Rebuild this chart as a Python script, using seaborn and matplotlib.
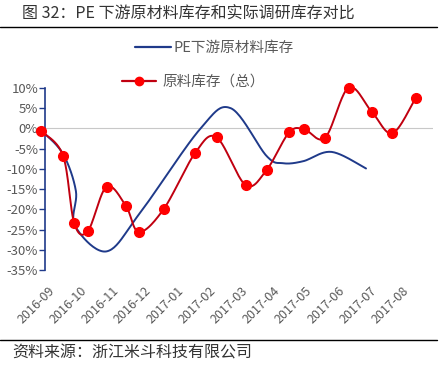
import numpy as np
import pandas as pd
import seaborn as sns
import matplotlib.pyplot as plt
from matplotlib.lines import Line2D

# --- données (x = index de mois, 0 = 2016-09) ---
mois = ['2016-09', '2016-10', '2016-11', '2016-12', '2017-01', '2017-02',
        '2017-03', '2017-04', '2017-05', '2017-06', '2017-07', '2017-08']

# PE下游原材料库存 (courbe lissée, points relevés)
pe_x = [-0.20, 0.47, 0.87, 0.84, 1.82, 2.86, 4.72, 5.68, 6.79, 7.30, 7.93, 8.81, 9.88]
pe_y = [-0.5, -6.3, -15.5, -24.0, -30.4, -20.9, -0.2, 5.0, -6.8, -8.6, -8.1, -5.8, -9.9]

# 原料库存（总）
tot_x = [-0.20, 0.47, 0.82, 1.24, 1.82, 2.42, 2.83, 3.60, 4.57, 5.24,
         6.14, 6.79, 7.49, 7.96, 8.61, 9.34, 10.06, 10.70, 11.42]
tot_y = [-0.7, -6.7, -23.5, -25.4, -14.4, -19.1, -25.6, -19.9, -6.1, -2.2,
         -14.0, -10.3, -1.0, -0.2, -2.3, 10.1, 4.1, -1.2, 7.5]

y_ticks = [10, 5, 0, -5, -10, -15, -20, -25, -30, -35]


def lissage(xs, ys, n=24):
    # spline de Catmull-Rom, comme la "ligne lissée" d'Excel
    p = np.column_stack([xs, ys]).astype(float)
    p = np.vstack([p[0], p, p[-1]])
    out = []
    for i in range(1, len(p) - 2):
        p0, p1, p2, p3 = p[i - 1], p[i], p[i + 1], p[i + 2]
        t = np.linspace(0, 1, n, endpoint=False)[:, None]
        seg = 0.5 * ((2 * p1) + (-p0 + p2) * t + (2 * p0 - 5 * p1 + 4 * p2 - p3) * t ** 2
                     + (-p0 + 3 * p1 - 3 * p2 + p3) * t ** 3)
        out.append(seg)
    out.append(p[-2][None, :])
    out = np.vstack(out)
    return pd.DataFrame({'x': out[:, 0], 'y': out[:, 1]})


sns.set_style('white')
plt.rcParams['font.family'] = ['Noto Sans CJK SC', 'DejaVu Sans']

BLEU = '#1F3A8A'
ROUGE_LIGNE = '#C00010'
ROUGE = '#FF0000'
GRIS = '#595959'

fig = plt.figure(figsize=(4.4, 3.65), dpi=100)
ax = fig.add_axes([45 / 440, 95 / 365, (433 - 45) / 440, 182 / 365])

ax.axhline(0, color='#C8C8C8', lw=0.8, zorder=1)

sns.lineplot(data=lissage(pe_x, pe_y), x='x', y='y', sort=False, estimator=None,
             color=BLEU, lw=1.4, ax=ax, zorder=3)
sns.lineplot(data=lissage(tot_x, tot_y), x='x', y='y', sort=False, estimator=None,
             color=ROUGE_LIGNE, lw=1.4, ax=ax, zorder=4)
ax.plot(tot_x, tot_y, 'o', color=ROUGE, ms=7, mec=ROUGE, zorder=5, clip_on=False)

ax.set_xlim(-0.09, 11.96)
ax.set_ylim(-35, 10)
ax.set_yticks(y_ticks)
ax.set_yticklabels([f'{v}%' for v in y_ticks])
ax.set_xticks(range(len(mois)))
ax.set_xticklabels(mois, rotation=45, ha='right', va='top', rotation_mode='anchor')
ax.set_xlabel('')
ax.set_ylabel('')

for s in ['top', 'right', 'bottom']:
    ax.spines[s].set_visible(False)
ax.spines['left'].set_color(BLEU)
ax.spines['left'].set_linewidth(1.2)
ax.tick_params(axis='y', direction='out', length=4, width=1, color=BLEU,
               labelsize=9.5, labelcolor=GRIS, pad=1, left=True)
ax.tick_params(axis='x', length=0, labelsize=9, labelcolor=GRIS, pad=10)

# légende en deux morceaux décalés, comme l'original
h1 = Line2D([], [], color=BLEU, lw=1.6)
h2 = Line2D([], [], color=ROUGE_LIGNE, lw=1.6, marker='o', ms=6, mfc=ROUGE, mec=ROUGE)
leg1 = fig.legend([h1], ['PE下游原材料库存'], loc='center left',
                  bbox_to_anchor=(135 / 440, 1 - 48 / 365), frameon=False,
                  borderpad=0, borderaxespad=0,
                  fontsize=10.5, labelcolor=GRIS, handlelength=2.5, handletextpad=0.15)
leg2 = fig.legend([h2], ['原料库存（总）'], loc='center left',
                  bbox_to_anchor=(122 / 440, 1 - 82 / 365), frameon=False,
                  borderpad=0, borderaxespad=0,
                  fontsize=10.5, labelcolor=GRIS, handlelength=2.3, handletextpad=0.5)

# titre et source
fig.text(22 / 440, 1 - 14 / 365, '图 32：PE 下游原材料库存和实际调研库存对比',
         fontsize=11.5, color='#333333', va='center', ha='left')
fig.add_artist(Line2D([0, 437 / 440], [1 - 27 / 365, 1 - 27 / 365], color='black', lw=1))
fig.add_artist(Line2D([0, 437 / 440], [1 - 340 / 365, 1 - 340 / 365], color='black', lw=1))
fig.text(12 / 440, 1 - 353 / 365, '资料来源：浙江米斗科技有限公司',
         fontsize=11.5, color='#333333', va='center', ha='left')

fig.savefig('out.png', dpi=100, facecolor='white')
